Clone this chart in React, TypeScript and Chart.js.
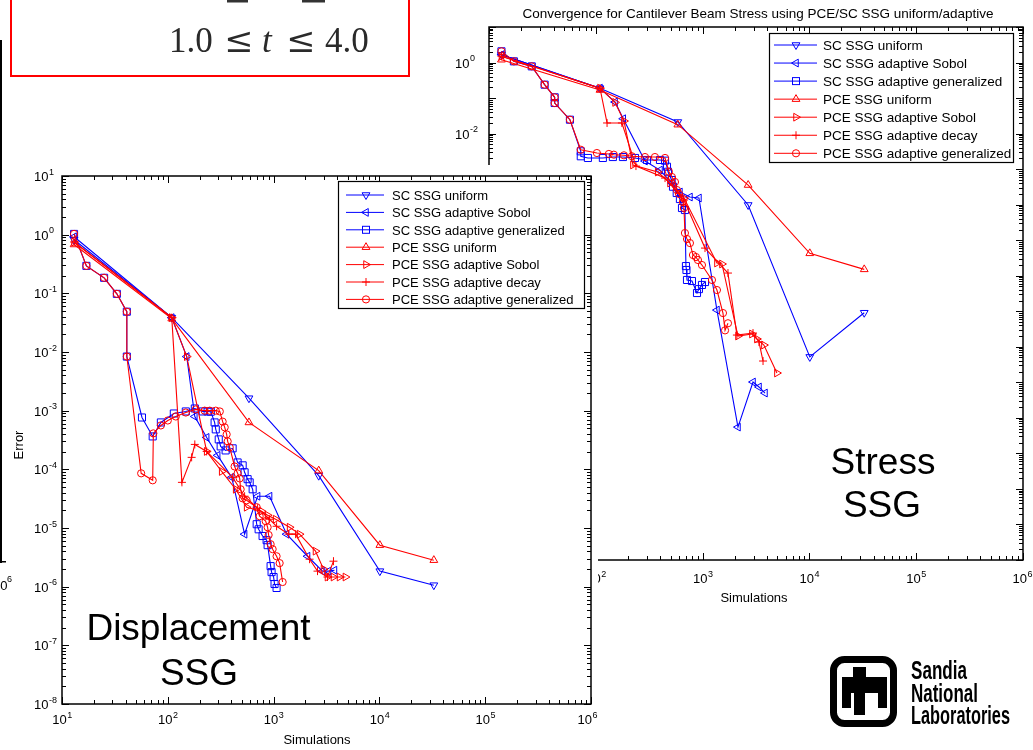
import React, { useEffect, useRef } from 'react';
import { Chart, registerables } from 'chart.js';

Chart.register(...registerables);

const BLUE = '#0000ff';
const RED = '#ff0000';
const FONT = '"Liberation Sans", Arial, Helvetica, sans-serif';

// ---------- series labels ----------
const seriesLabels = [
  'SC SSG uniform',
  'SC SSG adaptive Sobol',
  'SC SSG adaptive generalized',
  'PCE SSG uniform',
  'PCE SSG adaptive Sobol',
  'PCE SSG adaptive decay',
  'PCE SSG adaptive generalized',
];

// ---------- shared simulation counts of the uniform grids ----------
const uniformSims = [13, 109, 585, 2670, 10100, 32700];

// ---------- Displacement (left chart) ----------
const dispScUniformErr = [0.82, 0.0385, 1.63e-3, 7.8e-5, 1.84e-6, 1.06e-6];
const dispPceUniformErr = [0.68, 0.037, 6.3e-4, 9.5e-5, 5.1e-6, 2.83e-6];

const dispScSobolSims = [13, 109, 151, 180, 233, 296, 402, 532, 706, 916, 1327, 2094, 2899, 3303, 3761];
const dispScSobolErr = [0.92, 0.0385, 8.36e-3, 7.96e-4, 3.5e-4, 1.73e-4, 7.3e-5, 7.85e-6, 3.48e-5, 3.48e-5, 7.85e-6, 3.3e-6, 1.84e-6, 1.84e-6, 1.91e-6];

const dispScGenSims = [13, 17, 25, 33, 41, 41, 57, 72, 86, 114, 148, 180, 214, 238, 255, 277, 284, 303, 316, 352, 410, 457, 510, 532, 568, 594, 634, 692, 722, 787, 859, 878, 937, 957, 1000, 1021, 1067];
const dispScGenErr = [1.03, 0.294, 0.184, 0.098, 0.0486, 8.36e-3, 7.65e-4, 3.64e-4, 6.3e-4, 8.95e-4, 9.7e-4, 1.09e-3, 9.7e-4, 9.7e-4, 9.6e-4, 6.3e-4, 4.8e-4, 3.24e-4, 2.46e-4, 2.1e-4, 2.28e-4, 1.31e-4, 1.17e-4, 8.9e-5, 6.8e-5, 6.0e-5, 4.57e-5, 1.16e-5, 9.5e-6, 7.3e-6, 6.2e-6, 5.1e-6, 2.24e-6, 1.77e-6, 1.46e-6, 1.11e-6, 9.5e-7];

const dispPceSobolSims = [13, 109, 151, 233, 323, 438, 556, 770, 878, 1045, 1416, 1759, 2489, 2963, 3230, 3681, 4198, 4775];
const dispPceSobolErr = [0.75, 0.0385, 8.36e-3, 2.02e-4, 9.2e-5, 4.57e-5, 2.26e-5, 1.93e-5, 1.65e-5, 1.41e-5, 1.03e-5, 7.85e-6, 4.03e-6, 1.99e-6, 1.46e-6, 1.46e-6, 1.46e-6, 1.46e-6];

const dispPceDecaySims = [13, 109, 136, 168, 180, 233, 410, 532, 706, 916, 1067, 1387, 1614, 2188, 2600, 3230, 3681];
const dispPceDecayErr = [0.75, 0.0385, 6.0e-5, 1.6e-4, 2.66e-4, 2.02e-4, 7.3e-5, 3.48e-5, 2.17e-5, 1.41e-5, 1.07e-5, 7.85e-6, 7.85e-6, 2.94e-6, 1.84e-6, 1.46e-6, 2.72e-6];

const dispPceGenSims = [13, 17, 25, 33, 41, 41, 56, 72, 73, 86, 100, 119, 148, 184, 223, 249, 284, 310, 330, 345, 360, 368, 385, 428, 457, 478, 488, 510, 556, 692, 738, 841, 878, 897, 937, 979, 1067, 1140, 1217];
const dispPceGenErr = [1.03, 0.294, 0.184, 0.098, 0.0486, 8.36e-3, 8.55e-5, 6.5e-5, 4.1e-4, 5.6e-4, 6.8e-4, 7.96e-4, 9.3e-4, 1.05e-3, 1.0e-3, 1.0e-3, 1.0e-3, 9.7e-4, 6.5e-4, 5.2e-4, 3.94e-4, 3.0e-4, 2.37e-4, 1.12e-4, 8.55e-5, 7.0e-5, 4.57e-5, 3.2e-5, 2.97e-5, 2.26e-5, 1.59e-5, 1.31e-5, 1.03e-5, 7.6e-6, 5.3e-6, 4.36e-6, 3.3e-6, 2.52e-6, 1.2e-6];

// ---------- Stress (right chart) ----------
const stressScUniformErr = [1.66, 0.19, 0.0212, 9.8e-5, 5.2e-9, 9.1e-8];
const stressPceUniformErr = [1.2, 0.169, 0.0178, 3.57e-4, 4.27e-6, 1.51e-6];

const stressScSobolSims = [13, 109, 151, 180, 288, 398, 515, 612, 760, 923, 1361, 2143, 2965, 3373, 3838];
const stressScSobolErr = [1.66, 0.19, 0.0775, 0.0262, 1.69e-3, 9.4e-4, 4.07e-4, 2.27e-4, 1.64e-4, 1.54e-4, 1.08e-7, 5.5e-11, 1.02e-9, 7.4e-10, 5.0e-10];

const stressScGenSims = [13, 17, 25, 33, 41, 41, 57, 72, 72, 84, 116, 144, 179, 232, 301, 398, 444, 463, 473, 512, 527, 571, 612, 640, 682, 697, 705, 713, 794, 885, 923, 985, 1052];
const stressScGenErr = [2.07, 1.08, 0.78, 0.238, 0.105, 0.0726, 0.0246, 3.17e-3, 2.3e-3, 2.06e-3, 2.06e-3, 2.19e-3, 2.19e-3, 2.06e-3, 1.81e-3, 1.81e-3, 1.73e-3, 1.17e-3, 8.45e-4, 4.94e-4, 3.2e-4, 2.13e-4, 1.44e-4, 8.05e-5, 7.07e-5, 1.87e-6, 1.45e-6, 7.6e-7, 7.1e-7, 3.26e-7, 4.2e-7, 5.5e-7, 6.65e-7];

const stressPceSobolSims = [13, 109, 151, 183, 222, 379, 494, 668, 1361, 1517, 2143, 2897, 3224, 3750, 4966];
const stressPceSobolErr = [1.5, 0.19, 0.0755, 0.0226, 1.31e-3, 8.3e-4, 4.07e-4, 1.54e-4, 2.28e-6, 2.14e-6, 2.01e-8, 2.29e-8, 1.66e-8, 1.12e-8, 1.83e-9];

const stressPceDecaySims = [13, 109, 127, 175, 237, 444, 668, 1052, 1727, 2094, 2965, 3373, 3681];
const stressPceDecayErr = [1.5, 0.19, 0.0199, 0.0199, 1.22e-3, 5.6e-4, 1.35e-4, 6.0e-6, 1.19e-6, 2.14e-8, 2.44e-8, 1.36e-8, 3.98e-9];

const stressPceGenSims = [13, 17, 25, 33, 41, 41, 57, 72, 102, 132, 147, 183, 217, 288, 357, 444, 483, 515, 550, 574, 600, 653, 668, 682, 713, 760, 811, 865, 903, 985, 1222, 1361, 1550, 1621, 1727];
const stressPceGenErr = [2.07, 1.08, 0.78, 0.238, 0.105, 0.0726, 0.0246, 3.52e-3, 2.84e-3, 2.67e-3, 2.55e-3, 2.45e-3, 2.3e-3, 2.19e-3, 2.19e-3, 2.06e-3, 8.45e-4, 6.0e-4, 4.35e-4, 2.58e-4, 2.0e-4, 1.19e-4, 8.05e-5, 1.59e-5, 1.08e-5, 8.3e-6, 3.83e-6, 3.36e-6, 2.77e-6, 2.0e-6, 7.6e-7, 3.96e-7, 8.9e-8, 2.9e-8, 4.6e-8];

type Series = { x: number[]; y: number[] };

const dispSeries: Series[] = [
  { x: uniformSims, y: dispScUniformErr },
  { x: dispScSobolSims, y: dispScSobolErr },
  { x: dispScGenSims, y: dispScGenErr },
  { x: uniformSims, y: dispPceUniformErr },
  { x: dispPceSobolSims, y: dispPceSobolErr },
  { x: dispPceDecaySims, y: dispPceDecayErr },
  { x: dispPceGenSims, y: dispPceGenErr },
];

const stressSeries: Series[] = [
  { x: uniformSims, y: stressScUniformErr },
  { x: stressScSobolSims, y: stressScSobolErr },
  { x: stressScGenSims, y: stressScGenErr },
  { x: uniformSims, y: stressPceUniformErr },
  { x: stressPceSobolSims, y: stressPceSobolErr },
  { x: stressPceDecaySims, y: stressPceDecayErr },
  { x: stressPceGenSims, y: stressPceGenErr },
];

type Kind = 'down' | 'left' | 'square' | 'up' | 'right' | 'plus' | 'circle';
const seriesKinds: Kind[] = ['down', 'left', 'square', 'up', 'right', 'plus', 'circle'];
const seriesColors = [BLUE, BLUE, BLUE, RED, RED, RED, RED];

function pointStyleFor(kind: Kind): { pointStyle: any; rotation: number; radius: number } {
  switch (kind) {
    case 'down': return { pointStyle: 'triangle', rotation: 180, radius: 4.5 };
    case 'left': return { pointStyle: 'triangle', rotation: 270, radius: 4.5 };
    case 'up': return { pointStyle: 'triangle', rotation: 0, radius: 4.5 };
    case 'right': return { pointStyle: 'triangle', rotation: 90, radius: 4.5 };
    case 'square': return { pointStyle: 'rect', rotation: 0, radius: 5 };
    case 'plus': return { pointStyle: 'cross', rotation: 0, radius: 4 };
    default: return { pointStyle: 'circle', rotation: 0, radius: 3.6 };
  }
}

interface AxesCfg {
  xMinExp: number; xMaxExp: number; yMinExp: number; yMaxExp: number;
  yLabelStep: number; yLabelX: number; xLabelBase: number;
  xTitle: { text: string; x: number; y: number };
  yTitle?: { text: string; x: number; y: number };
  title?: { text: string; x: number; y: number; size: number };
}

function drawPow(ctx: CanvasRenderingContext2D, exp: number, x: number, yBase: number, center: boolean, maxRight: number) {
  const es = String(exp);
  ctx.font = `13px ${FONT}`;
  const w1 = ctx.measureText('10').width;
  ctx.font = `9px ${FONT}`;
  const w2 = ctx.measureText(es).width;
  let x0 = center ? x - (w1 + w2) / 2 : x;
  if (x0 + w1 + w2 + 1 > maxRight) x0 = maxRight - w1 - w2 - 1;
  ctx.font = `13px ${FONT}`;
  ctx.fillText('10', x0, yBase);
  ctx.font = `9px ${FONT}`;
  ctx.fillText(es, x0 + w1 + 0.5, yBase - 6.5);
}

function makeAxesPlugin(cfg: AxesCfg) {
  return {
    id: 'matlabAxes',
    beforeDraw(chart: any) {
      const ctx: CanvasRenderingContext2D = chart.ctx;
      ctx.save();
      ctx.fillStyle = '#ffffff';
      ctx.fillRect(0, 0, chart.width, chart.height);
      ctx.restore();
    },
    afterDraw(chart: any) {
      const ctx: CanvasRenderingContext2D = chart.ctx;
      const a = chart.chartArea;
      const xs = chart.scales.x;
      const ys = chart.scales.y;
      const L = Math.round(a.left), R = Math.round(a.right), T = Math.round(a.top), B = Math.round(a.bottom);
      ctx.save();
      ctx.strokeStyle = '#000';
      ctx.lineWidth = 1;
      ctx.beginPath();
      for (let e = cfg.xMinExp; e <= cfg.xMaxExp; e++) {
        for (let m = 1; m <= 9; m++) {
          if (e === cfg.xMaxExp && m > 1) break;
          const px = Math.round(xs.getPixelForValue(m * Math.pow(10, e))) + 0.5;
          const len = m === 1 ? 7 : 4;
          ctx.moveTo(px, B); ctx.lineTo(px, B - len);
          ctx.moveTo(px, T); ctx.lineTo(px, T + len);
        }
      }
      for (let e = cfg.yMinExp; e <= cfg.yMaxExp; e++) {
        for (let m = 1; m <= 9; m++) {
          if (e === cfg.yMaxExp && m > 1) break;
          const py = Math.round(ys.getPixelForValue(m * Math.pow(10, e))) + 0.5;
          const len = m === 1 ? 7 : 4;
          ctx.moveTo(L, py); ctx.lineTo(L + len, py);
          ctx.moveTo(R, py); ctx.lineTo(R - len, py);
        }
      }
      ctx.stroke();
      ctx.lineWidth = 1.5;
      ctx.strokeRect(L, T, R - L, B - T);

      ctx.fillStyle = '#000';
      ctx.textAlign = 'left';
      ctx.textBaseline = 'alphabetic';
      for (let e = cfg.xMinExp; e <= cfg.xMaxExp; e++) {
        drawPow(ctx, e, xs.getPixelForValue(Math.pow(10, e)), cfg.xLabelBase, true, chart.width);
      }
      for (let e = cfg.yMinExp; e <= cfg.yMaxExp; e++) {
        if (e % cfg.yLabelStep !== 0) continue;
        drawPow(ctx, e, cfg.yLabelX, ys.getPixelForValue(Math.pow(10, e)) + 5, false, chart.width);
      }
      ctx.font = `13px ${FONT}`;
      ctx.textAlign = 'center';
      ctx.fillText(cfg.xTitle.text, cfg.xTitle.x, cfg.xTitle.y);
      if (cfg.title) {
        ctx.font = `${cfg.title.size}px ${FONT}`;
        ctx.fillText(cfg.title.text, cfg.title.x, cfg.title.y);
      }
      if (cfg.yTitle) {
        ctx.save();
        ctx.translate(cfg.yTitle.x, cfg.yTitle.y);
        ctx.rotate(-Math.PI / 2);
        ctx.font = `13px ${FONT}`;
        ctx.textAlign = 'center';
        ctx.textBaseline = 'middle';
        ctx.fillText(cfg.yTitle.text, 0, 0);
        ctx.restore();
      }
      ctx.restore();
    },
  };
}

interface LogChartProps {
  left: number; top: number; width: number; height: number;
  pad: { left: number; right: number; top: number; bottom: number };
  yMin: number; yMax: number;
  series: Series[];
  axes: AxesCfg;
}

function LogChart(p: LogChartProps) {
  const ref = useRef<HTMLCanvasElement>(null);
  useEffect(() => {
    if (!ref.current) return;
    const datasets = p.series.map((s, i) => {
      const st = pointStyleFor(seriesKinds[i]);
      return {
        label: seriesLabels[i],
        data: s.x.map((x, j) => ({ x, y: s.y[j] })),
        showLine: true,
        borderColor: seriesColors[i],
        borderWidth: 1.1,
        backgroundColor: 'rgba(0,0,0,0)',
        pointStyle: st.pointStyle,
        pointRotation: st.rotation,
        pointRadius: st.radius,
        pointBorderColor: seriesColors[i],
        pointBackgroundColor: 'rgba(0,0,0,0)',
        pointBorderWidth: 1,
        tension: 0,
        order: 10 - i,
      };
    });
    const chart = new Chart(ref.current, {
      type: 'scatter',
      data: { datasets } as any,
      options: {
        responsive: false,
        maintainAspectRatio: false,
        animation: false,
        devicePixelRatio: 1,
        events: [],
        layout: { padding: p.pad },
        plugins: { legend: { display: false }, tooltip: { enabled: false }, title: { display: false } },
        scales: {
          x: { type: 'logarithmic', min: 10, max: 1e6, display: false },
          y: { type: 'logarithmic', min: p.yMin, max: p.yMax, display: false },
        },
      } as any,
      plugins: [makeAxesPlugin(p.axes) as any],
    });
    return () => chart.destroy();
  }, []);
  return (
    <canvas
      ref={ref}
      width={p.width}
      height={p.height}
      style={{ position: 'absolute', left: p.left, top: p.top, width: p.width, height: p.height }}
    />
  );
}

function Marker({ kind, cx, cy, color }: { kind: Kind; cx: number; cy: number; color: string }) {
  const common = { fill: 'none', stroke: color, strokeWidth: 1 };
  switch (kind) {
    case 'down':
      return <polygon {...common} points={`${cx - 3.9},${cy - 2.25} ${cx + 3.9},${cy - 2.25} ${cx},${cy + 4.5}`} />;
    case 'up':
      return <polygon {...common} points={`${cx - 3.9},${cy + 2.25} ${cx + 3.9},${cy + 2.25} ${cx},${cy - 4.5}`} />;
    case 'left':
      return <polygon {...common} points={`${cx + 2.25},${cy - 3.9} ${cx + 2.25},${cy + 3.9} ${cx - 4.5},${cy}`} />;
    case 'right':
      return <polygon {...common} points={`${cx - 2.25},${cy - 3.9} ${cx - 2.25},${cy + 3.9} ${cx + 4.5},${cy}`} />;
    case 'square':
      return <rect {...common} x={cx - 3.5} y={cy - 3.5} width={7} height={7} />;
    case 'plus':
      return <path {...common} d={`M${cx - 4},${cy} L${cx + 4},${cy} M${cx},${cy - 4} L${cx},${cy + 4}`} />;
    default:
      return <circle {...common} cx={cx} cy={cy} r={3.6} />;
  }
}

function Legend(props: {
  x: number; y: number; w: number; h: number; row0: number; dy: number;
  lx0: number; lx1: number; mx: number; tx: number; fs: number;
}) {
  const { x, y, w, h, row0, dy, lx0, lx1, mx, tx, fs } = props;
  return (
    <g>
      <rect x={x} y={y} width={w} height={h} fill="#fff" stroke="#000" strokeWidth={1.2} />
      {seriesLabels.map((lab, i) => {
        const ry = row0 + i * dy;
        return (
          <g key={lab}>
            <line x1={lx0} y1={ry} x2={lx1} y2={ry} stroke={seriesColors[i]} strokeWidth={1} />
            <Marker kind={seriesKinds[i]} cx={mx} cy={ry} color={seriesColors[i]} />
            <text x={tx} y={ry + 4.7} fontFamily={FONT} fontSize={fs} fill="#000">{lab}</text>
          </g>
        );
      })}
    </g>
  );
}

export default function App() {
  const serif = '"Liberation Serif", "DejaVu Serif", serif';
  const mathSym = '"DejaVu Serif", "Liberation Serif", serif';
  return (
    <div style={{ position: 'fixed', left: 0, top: 0, width: 1033, height: 750, background: '#fff', overflow: 'hidden' }}>
      <LogChart
        left={440} top={0} width={593} height={612}
        pad={{ left: 49.3, right: 10.3, top: 27, bottom: 52 }}
        yMin={1e-14} yMax={10}
        series={stressSeries}
        axes={{
          xMinExp: 1, xMaxExp: 6, yMinExp: -14, yMaxExp: 1,
          yLabelStep: 2, yLabelX: 15, xLabelBase: 583,
          xTitle: { text: 'Simulations', x: 314, y: 602 },
          title: { text: 'Convergence for Cantilever Beam Stress using PCE/SC SSG uniform/adaptive', x: 318, y: 18, size: 13.5 },
        }}
      />
      <LogChart
        left={5} top={165} width={593} height={585}
        pad={{ left: 57, right: 7, top: 11, bottom: 46 }}
        yMin={1e-8} yMax={10}
        series={dispSeries}
        axes={{
          xMinExp: 1, xMaxExp: 6, yMinExp: -8, yMaxExp: 1,
          yLabelStep: 1, yLabelX: 29, xLabelBase: 559,
          xTitle: { text: 'Simulations', x: 312, y: 579 },
          yTitle: { text: 'Error', x: 14, y: 280 },
        }}
      />
      <svg width={1033} height={750} style={{ position: 'absolute', left: 0, top: 0 }}>
        {/* remnant of a figure further left */}
        <rect x={0} y={40} width={2} height={523} fill="#000" />
        <rect x={0} y={561} width={6} height={1.5} fill="#000" />
        <text x={-7} y={590} fontFamily={FONT} fontSize={13} fill="#000">10</text>
        <text x={7} y={582} fontFamily={FONT} fontSize={9} fill="#000">6</text>

        {/* formula box */}
        <rect x={11} y={-20} width={398} height={96} fill="none" stroke="#ff0000" strokeWidth={2} />
        <rect x={227} y={0} width={21} height={2.5} fill="#333" />
        <rect x={302} y={0} width={23} height={2.5} fill="#333" />
        <g fontSize={35} fill="#2a2a2a">
          <text x={169} y={52} fontFamily={serif}>1.0</text>
          <text x={224} y={52} fontFamily={mathSym}>≤</text>
          <text x={262} y={52} fontFamily={serif} fontStyle="italic">t</text>
          <text x={286} y={52} fontFamily={mathSym}>≤</text>
          <text x={325} y={52} fontFamily={serif}>4.0</text>
        </g>

        {/* legends */}
        <Legend x={769.5} y={33.5} w={244} h={129} row0={45} dy={18.05} lx0={774} lx1={817} mx={796} tx={823} fs={13.5} />
        <Legend x={338.5} y={181.5} w={246} h={127} row0={195} dy={17.4} lx0={346} lx1={384} mx={366} tx={392} fs={13} />

        {/* big annotations */}
        <g fontFamily={FONT} fontSize={37} fill="#000" textAnchor="middle">
          <text x={883} y={474}>Stress</text>
          <text x={882} y={517}>SSG</text>
          <text x={198.5} y={640}>Displacement</text>
          <text x={199} y={685}>SSG</text>
        </g>

        {/* Sandia National Laboratories logo */}
        <g transform="translate(830,656)">
          <rect x={3.5} y={3.5} width={60} height={64} rx={11} fill="#fff" stroke="#000" strokeWidth={7} />
          <rect x={23} y={11} width={13} height={11} fill="#000" />
          <rect x={12} y={21} width={45} height={16} fill="#000" />
          <rect x={12} y={36} width={9} height={16} fill="#000" />
          <rect x={48} y={36} width={9} height={16} fill="#000" />
          <rect x={24} y={36} width={11} height={23} fill="#000" />
        </g>
        <g fontFamily='"Liberation Sans Narrow", "Liberation Sans", Arial, sans-serif' fontWeight="bold" fontSize={25} fill="#000">
          <text x={911} y={679} textLength={56} lengthAdjust="spacingAndGlyphs">Sandia</text>
          <text x={911} y={701.5} textLength={67} lengthAdjust="spacingAndGlyphs">National</text>
          <text x={911} y={724} textLength={99} lengthAdjust="spacingAndGlyphs">Laboratories</text>
        </g>
      </svg>
    </div>
  );
}
